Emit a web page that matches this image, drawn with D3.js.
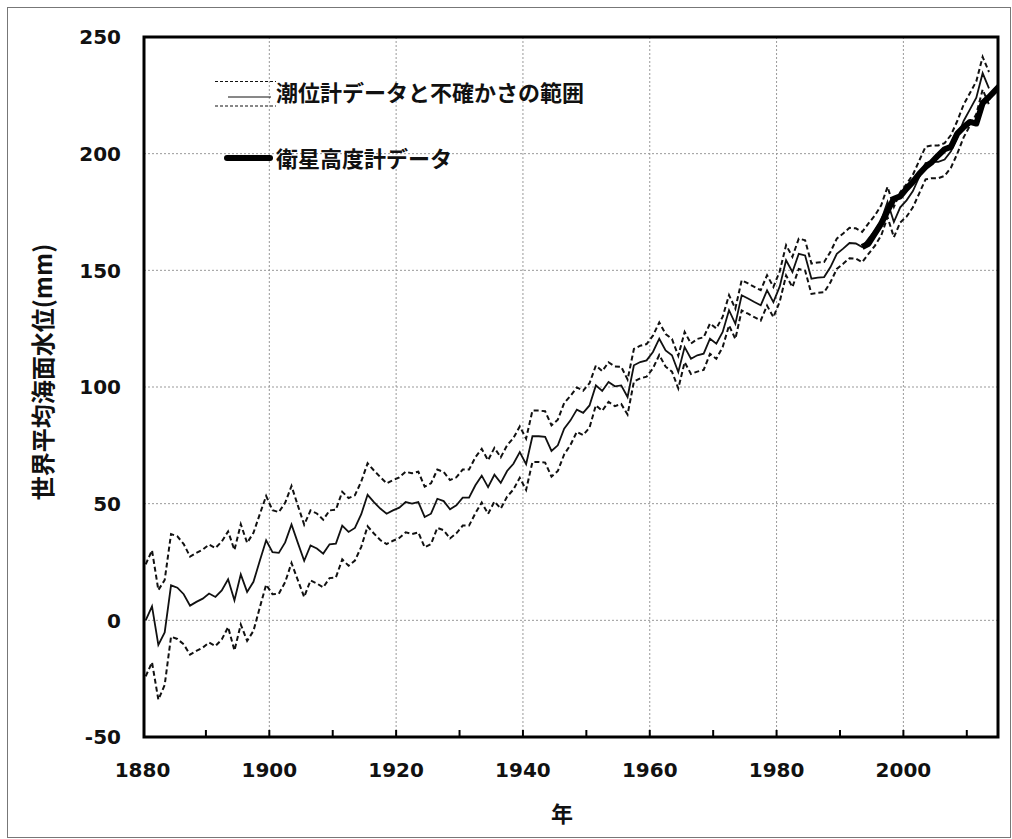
<!DOCTYPE html>
<html><head><meta charset="utf-8">
<script src="https://cdn.jsdelivr.net/npm/d3@7"></script>
<style>body{margin:0;background:#fff} svg{display:block}</style>
</head><body><svg id="c" width="1012" height="839"></svg>
<script>
// ---- data ----
const tideStart = 1880;
const tideGauge = [
  0, 6, -10.5, -5.2, 15, 14, 11.2, 6.3, 7.9, 9.3,
  11.5, 10, 12.8, 17.6, 8.6, 19.7, 12.2, 16.5, 25.5, 34.3,
  29.2, 28.9, 33.4, 41.1, 33.2, 25.5, 32.1, 30.8, 28.6, 32.6,
  32.9, 40.6, 37.9, 39.6, 45.5, 53.8, 50.7, 47.9, 45.7, 47.1,
  48.3, 50.7, 50, 50.7, 44.3, 45.7, 52.1, 51.1, 47.6, 49.3,
  52.6, 52.6, 57.9, 62, 57.1, 62.4, 58.9, 64, 67.1, 72.1,
  66.9, 78.9, 78.9, 78.6, 72.6, 75, 82.1, 85.7, 90.3, 88.9,
  92.1, 100.7, 98.3, 102.1, 100.3, 100.7, 95.7, 109.3, 110.7, 111.4,
  115, 120.7, 115.7, 113.6, 106.4, 117.1, 112.1, 113.6, 114.3, 120.7,
  118.6, 123.6, 132.9, 127.1, 139.3, 137.9, 136.4, 135, 141.4, 136.4,
  143.1, 154.3, 149.3, 157.1, 156.4, 146.4, 146.9, 147.1, 151.4, 157.1,
  159.3, 161.7, 161.5, 160, 163.6, 167, 171.4, 179.3, 170.7, 177,
  180, 184, 190, 196, 196.5, 196.5, 197.5, 201, 207, 214,
  219, 224, 234.5, 228
];
const tideUncertainty = [
  24, 24, 23.5, 22.5, 22, 22, 21.5, 21, 21, 21,
  21, 21, 21, 20.5, 21.5, 21.5, 21, 21, 20, 19,
  18, 17.5, 17, 16.5, 16, 15.5, 15, 15, 14.5, 14.5,
  14.5, 14.5, 14.5, 14, 14, 13.5, 13.5, 13.5, 13, 13,
  13, 13, 13, 13, 13, 13, 12.5, 12.5, 12.5, 12,
  12, 12, 12, 11.5, 11.5, 11.5, 11, 11, 11, 11,
  11, 11, 11, 11, 11, 11, 11, 10.5, 9.5, 9.5,
  9.5, 8.5, 8.5, 8.5, 8.5, 8, 7.5, 7, 7, 7,
  7, 7, 7, 7, 7, 6.5, 6.5, 7, 7, 6.5,
  6.5, 6.5, 6.5, 6.5, 6.5, 6.5, 6.5, 6.5, 6.5, 6.5,
  6.5, 6.5, 6.5, 6.5, 6.5, 6.5, 6.5, 6.5, 6.5, 6.5,
  6.5, 6.5, 6.5, 6.5, 6.5, 6.5, 6.5, 6.5, 6.5, 6.5,
  7, 7, 7, 7, 7, 7, 7, 7, 7, 7,
  7, 7, 7, 7
];
const satStart = 1993;
const satellite = [
  160, 161.4, 165.7, 170, 175.5, 180.7, 181.7, 185, 187.9, 191.4,
  194.3, 196.4, 199.3, 201.9, 202.9, 208.6, 211.4, 213.6, 212.9, 221.7,
  224.3, 227.1, 230
];
const xTickLabels = [1880, 1900, 1920, 1940, 1960, 1980, 2000];
const xMinorTicks = [1890, 1900, 1910, 1920, 1930, 1940, 1950, 1960, 1970, 1980, 1990, 2000, 2010];
const yTickLabels = [-50, 0, 50, 100, 150, 200, 250];
const yGrid = [0, 50, 100, 150, 200];
const xGrid = [1900, 1920, 1940, 1960, 1980, 2000];
const legendTide = "潮位計データと不確かさの範囲";
const legendSat = "衛星高度計データ";
const yTitle = "世界平均海面水位(mm)";
const xTitle = "年";

// ---- build ----
const tide = tideGauge.map((v, i) => ({year: tideStart + i, v, u: tideUncertainty[i]}));
const sat = satellite.map((v, i) => ({year: satStart + i, v}));

const svg = d3.select("#c");
const L = 144, R = 998, T = 37, B = 737;
const x = d3.scaleLinear().domain([1880, 2015]).range([142.5, 998.5]);
const y = d3.scaleLinear().domain([-50, 250]).range([B, T]);
const mid = d => x(d.year + 0.5);

// outer frame
svg.append("rect").attr("x", 7.5).attr("y", 7.5).attr("width", 1003).attr("height", 830)
  .attr("fill", "none").attr("stroke", "#777").attr("stroke-width", 1);

svg.append("defs").append("clipPath").attr("id", "clip")
  .append("rect").attr("x", L).attr("y", T).attr("width", R - L).attr("height", B - T);

// grid
const g = svg.append("g");
g.selectAll(".hg").data(yGrid).join("line")
  .attr("x1", L).attr("x2", R).attr("y1", d => y(d)).attr("y2", d => y(d))
  .attr("stroke", "#999").attr("stroke-width", 1).attr("stroke-dasharray", "2,2");
g.selectAll(".vg").data(xGrid).join("line")
  .attr("y1", T).attr("y2", B).attr("x1", d => x(d)).attr("x2", d => x(d))
  .attr("stroke", "#999").attr("stroke-width", 1).attr("stroke-dasharray", "2,2");

// data lines
const plot = svg.append("g").attr("clip-path", "url(#clip)");
const line = d3.line().x(mid);
plot.append("path").datum(tide)
  .attr("d", line.y(d => y(d.v + d.u))).attr("fill", "none")
  .attr("stroke", "#111").attr("stroke-width", 2).attr("stroke-dasharray", "5,3");
plot.append("path").datum(tide)
  .attr("d", d3.line().x(mid).y(d => y(d.v - d.u))).attr("fill", "none")
  .attr("stroke", "#111").attr("stroke-width", 2).attr("stroke-dasharray", "5,3");
plot.append("path").datum(tide)
  .attr("d", d3.line().x(mid).y(d => y(d.v))).attr("fill", "none")
  .attr("stroke", "#111").attr("stroke-width", 1.8);
plot.append("path").datum(sat)
  .attr("d", d3.line().x(mid).y(d => y(d.v))).attr("fill", "none")
  .attr("stroke", "#000").attr("stroke-width", 6).attr("stroke-linejoin", "round");

// frame
svg.append("rect").attr("x", L).attr("y", T).attr("width", R - L).attr("height", B - T)
  .attr("fill", "none").attr("stroke", "#000").attr("stroke-width", 3);

// x minor ticks
svg.selectAll(".xt").data(xMinorTicks).join("line")
  .attr("x1", d => x(d)).attr("x2", d => x(d)).attr("y1", B).attr("y2", B - 7)
  .attr("stroke", "#000").attr("stroke-width", 2);

// tick labels
const tickFont = "'DejaVu Sans', Verdana, sans-serif";
svg.selectAll(".xl").data(xTickLabels).join("text")
  .attr("x", d => x(d)).attr("y", 777).attr("text-anchor", "middle")
  .attr("font-family", tickFont).attr("font-weight", "bold").attr("font-size", 20)
  .attr("fill", "#111").text(d => d);
svg.selectAll(".yl").data(yTickLabels).join("text")
  .attr("x", 121).attr("y", d => y(d)).attr("dy", "0.36em").attr("text-anchor", "end")
  .attr("font-family", tickFont).attr("font-weight", "bold").attr("font-size", 20)
  .attr("fill", "#111").text(d => d);

// titles
const cjk = "'Noto Sans CJK JP', 'Noto Sans CJK SC', sans-serif";
svg.append("text").attr("transform", "translate(41,372) rotate(-90)")
  .attr("text-anchor", "middle").attr("dominant-baseline", "central")
  .attr("font-family", cjk).attr("font-weight", "bold").attr("font-size", 24)
  .attr("fill", "#111").text(yTitle);
svg.append("text").attr("x", 562).attr("y", 812)
  .attr("text-anchor", "middle").attr("dominant-baseline", "central")
  .attr("font-family", cjk).attr("font-weight", "bold").attr("font-size", 22)
  .attr("fill", "#111").text(xTitle);

// legend
const lg = svg.append("g");
lg.append("line").attr("x1", 215).attr("x2", 276).attr("y1", 81.5).attr("y2", 81.5)
  .attr("stroke", "#111").attr("stroke-width", 1).attr("stroke-dasharray", "3,2");
lg.append("line").attr("x1", 228).attr("x2", 271).attr("y1", 97).attr("y2", 97)
  .attr("stroke", "#111").attr("stroke-width", 1);
lg.append("line").attr("x1", 215).attr("x2", 276).attr("y1", 106).attr("y2", 106)
  .attr("stroke", "#111").attr("stroke-width", 1).attr("stroke-dasharray", "3,2");
lg.append("text").attr("x", 276).attr("y", 91).attr("dominant-baseline", "central")
  .attr("font-family", cjk).attr("font-weight", "bold").attr("font-size", 22)
  .attr("fill", "#111").text(legendTide);
lg.append("line").attr("x1", 227).attr("x2", 270).attr("y1", 158).attr("y2", 158)
  .attr("stroke", "#000").attr("stroke-width", 6).attr("stroke-linecap", "round");
lg.append("text").attr("x", 276).attr("y", 157).attr("dominant-baseline", "central")
  .attr("font-family", cjk).attr("font-weight", "bold").attr("font-size", 22)
  .attr("fill", "#111").text(legendSat);
</script></body></html>
